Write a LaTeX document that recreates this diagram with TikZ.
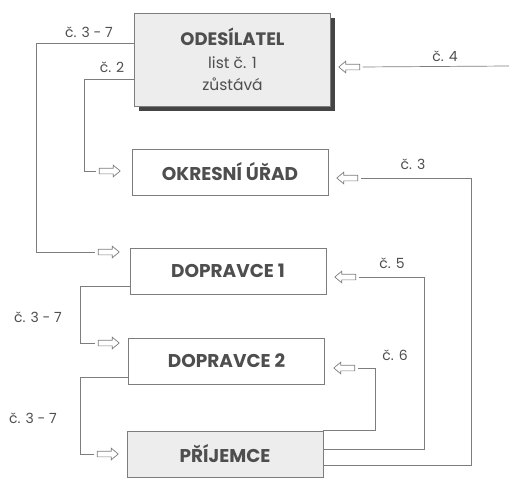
\documentclass[tikz,border=0pt]{standalone}
\usepackage{fontspec}
\setmainfont{Poppins}
\usetikzlibrary{shapes.arrows,shadows}
\definecolor{linegray}{RGB}{125,125,125}
\definecolor{textgray}{RGB}{78,78,78}
\definecolor{boxgray}{RGB}{237,237,237}
\definecolor{shadowgray}{RGB}{68,68,68}
\tikzset{%
    office/.style={draw=linegray, line width=0.8pt, minimum width=196pt,
        minimum height=46pt, inner sep=0pt, text=textgray,
        font=\fontsize{18.5}{22}\selectfont\bfseries},
    shaded/.style={office, fill=boxgray},
    wayline/.style={draw=linegray, line width=0.7pt, shorten >=2.5pt},
    leftarrow/.style={single arrow, draw=linegray, fill=white, line width=0.7pt,
        minimum height=21pt, minimum width=11pt, single arrow head extend=3pt,
        inner xsep=0pt, inner ysep=2.5pt, single arrow tip angle=80,
        shape border rotate=180},
    rightarrow/.style={leftarrow, shape border rotate=0},
    numlabel/.style={text=textgray, font=\fontsize{14}{16}\selectfont}
}

\begin{document}
\begin{tikzpicture}[x=1pt,y=-1pt]
    \useasboundingbox (0,0) rectangle (509,479);
%-----------------------------------------------
    \node[shaded, minimum height=93pt, font=\fontsize{15.5}{22.5}\selectfont, align=center,
        drop shadow={shadow xshift=4pt, shadow yshift=-5pt, fill=shadowgray, opacity=1}]
        (ods) at (232.5,59.5) {{\fontsize{18}{22.5}\selectfont\bfseries ODESÍLATEL}\\list č. 1\\zůstává};
    \node[office] (okr) at (230,172) {OKRESNÍ ÚŘAD};
    \node[office] (dop1) at (228,271) {DOPRAVCE 1};
    \node[office] (dop2) at (226.5,361) {DOPRAVCE 2};
    \node[shaded] (prij) at (225,454) {PŘÍJEMCE};
%-----------------------------------------------
    \node[leftarrow] (a4) at (351,67) {};
    \node[leftarrow] (a3) at (349,178) {};
    \node[leftarrow] (a5) at (347,277) {};
    \node[leftarrow] (a6) at (346,368) {};
    \node[rightarrow] (a2) at (108,171) {};
    \node[rightarrow] (a37) at (107,252) {};
    \node[rightarrow] (b1) at (107,343) {};
    \node[rightarrow] (b2) at (106,454) {};
%-----------------------------------------------
    \coordinate (e4) at (509,66);
    \draw[wayline] (e4) -- (a4.tail);
    \draw[wayline] (ods.west |- 0,43) -| (36,252) -- (a37.tail);
    \draw[wayline] (ods.west |- 0,79) -| (84,171) -- (a2.tail);
    \draw[wayline] (prij.east |- 0,465) -| (471,178) -- (a3.tail);
    \draw[wayline] (prij.east |- 0,449) -| (424,277) -- (a5.tail);
    \draw[wayline] (prij.north east) -| (375,368) -- (a6.tail);
    \draw[wayline] (dop1.west |- 0,286) -| (80,343) -- (b1.tail);
    \draw[wayline] (dop2.west |- 0,377) -| (80,454) -- (b2.tail);
%-----------------------------------------------
    \node[numlabel] (l37a) at (89,32) {č. 3 - 7};
    \node[numlabel] (l2) at (112,67) {č. 2};
    \node[numlabel] (l4) at (445,56) {č. 4};
    \node[numlabel] (l3) at (413,164) {č. 3};
    \node[numlabel] (l5) at (392,263) {č. 5};
    \node[numlabel] (l6) at (395,355) {č. 6};
    \node[numlabel] (l37b) at (38,317) {č. 3 - 7};
    \node[numlabel] (l37c) at (33,418) {č. 3 - 7};
\end{tikzpicture}
\end{document}
